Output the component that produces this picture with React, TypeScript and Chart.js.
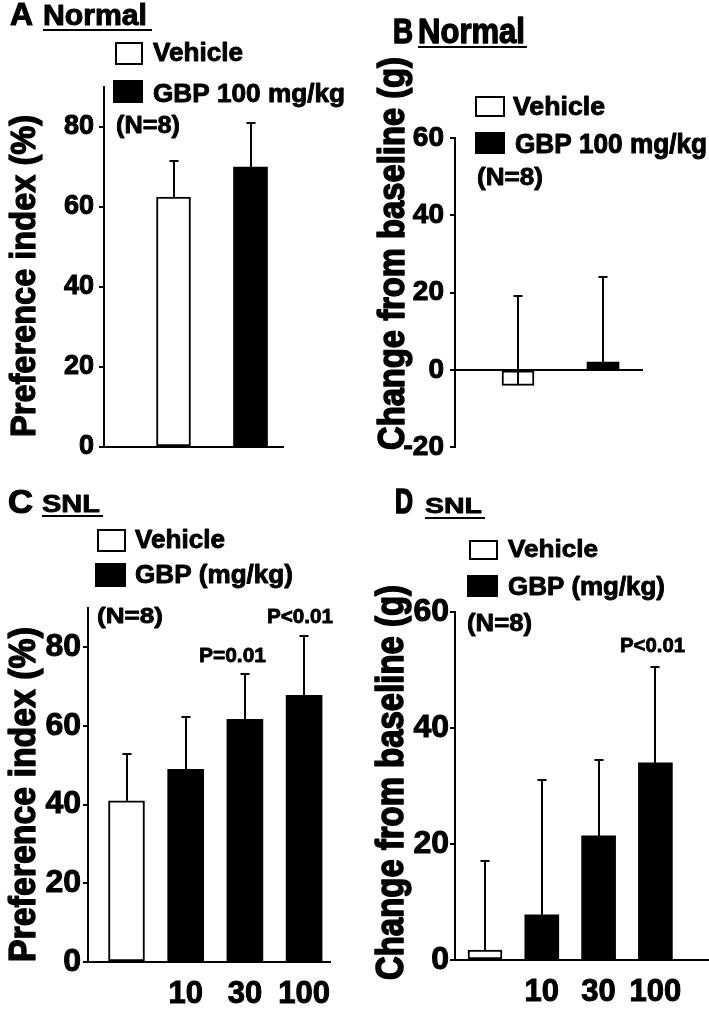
import React, { useEffect, useRef } from 'react';
import { Chart, registerables } from 'chart.js';

Chart.register(...registerables);

const FONT = '"Liberation Sans", Arial, Helvetica, sans-serif';

// ---------------- Data ----------------
// Panel A — Normal, preference index (%)
const A_VEHICLE_MEAN = [62.5];
const A_VEHICLE_SD = [9];
const A_GBP_MEAN = [70];
const A_GBP_SD = [11];
const A_Y_TICKS = [0, 20, 40, 60, 80];

// Panel B — Normal, change from baseline (g)
const B_VEHICLE_MEAN = [-4];
const B_VEHICLE_SD = [23];
const B_GBP_MEAN = [2];
const B_GBP_SD = [22];
const B_Y_TICKS = [-20, 0, 20, 40, 60];

// Panel C — SNL, preference index (%)
const C_VEHICLE_MEAN = [41];
const C_VEHICLE_SD = [12];
const C_GBP_MEAN = [49, 61.7, 67.8];
const C_GBP_SD = [13.2, 11.4, 15.2];
const C_Y_TICKS = [0, 20, 40, 60, 80];

// Panel D — SNL, change from baseline (g)
const D_VEHICLE_MEAN = [1.7];
const D_VEHICLE_SD = [15.4];
const D_GBP_MEAN = [7.8, 21.4, 34];
const D_GBP_SD = [23.2, 13.1, 16.5];
const D_Y_TICKS = [0, 20, 40, 60];

// Category tick labels
const NORMAL_X_LABELS = ['', ''];
const SNL_X_LABELS = ['', '10', '30', '100'];

// Text
const LEGEND_VEHICLE = 'Vehicle';
const LEGEND_GBP_100 = 'GBP 100 mg/kg';
const LEGEND_GBP_DOSE = 'GBP (mg/kg)';
const N_LABEL = '(N=8)';
const Y_TITLE_PI = 'Preference index (%)';
const Y_TITLE_CHG = 'Change from baseline (g)';

// ---------------- Layout ----------------
type TextSpec = { t: string; x: number; y: number; cap: number; w: number; rot?: boolean };
type BoxSpec = { x: number; y: number; w: number; h: number; fill: 'white' | 'black' };
type LineSpec = { x1: number; x2: number; y: number };

type PanelSpec = {
  box: { x: number; y: number; w: number; h: number };
  area: { l: number; t: number; r: number; b: number };
  yMin: number;
  yMax: number;
  yTicks: number[];
  tickFont: number;
  tickPad: number;
  barW: number;
  c1: number;
  sp: number;
  xAtZero: boolean;
  xLabels: string[];
  showXLabels: boolean;
  vehMean: number[];
  vehSd: number[];
  gbpMean: number[];
  gbpSd: number[];
  texts: TextSpec[];
  boxes: BoxSpec[];
  lines: LineSpec[];
};

const PANELS: PanelSpec[] = [
  {
    box: { x: 0, y: 0, w: 355, h: 470 },
    area: { l: 104, t: 87, r: 283, b: 447 },
    yMin: 0, yMax: 90, yTicks: A_Y_TICKS, tickFont: 27, tickPad: 5,
    barW: 34, c1: 173.5, sp: 77, xAtZero: false,
    xLabels: NORMAL_X_LABELS, showXLabels: false,
    vehMean: A_VEHICLE_MEAN, vehSd: A_VEHICLE_SD, gbpMean: A_GBP_MEAN, gbpSd: A_GBP_SD,
    texts: [
      { t: 'A', x: 10, y: 25, cap: 22, w: 23 },
      { t: 'Normal', x: 43, y: 25, cap: 21, w: 104 },
      { t: LEGEND_VEHICLE, x: 153, y: 61, cap: 18, w: 90 },
      { t: LEGEND_GBP_100, x: 153, y: 102, cap: 18, w: 192 },
      { t: N_LABEL, x: 116, y: 133, cap: 17, w: 64 },
      { t: Y_TITLE_PI, x: 35, y: 437, cap: 25, w: 322, rot: true },
    ],
    boxes: [
      { x: 115, y: 42, w: 28, h: 23, fill: 'white' },
      { x: 113, y: 80, w: 30, h: 23, fill: 'black' },
    ],
    lines: [{ x1: 43, x2: 152, y: 29 }],
  },
  {
    box: { x: 355, y: 0, w: 354, h: 470 },
    area: { l: 455, t: 138, r: 642, b: 448 },
    yMin: -20, yMax: 60, yTicks: B_Y_TICKS, tickFont: 28, tickPad: 6,
    barW: 32, c1: 518, sp: 85, xAtZero: true,
    xLabels: NORMAL_X_LABELS, showXLabels: false,
    vehMean: B_VEHICLE_MEAN, vehSd: B_VEHICLE_SD, gbpMean: B_GBP_MEAN, gbpSd: B_GBP_SD,
    texts: [
      { t: 'B', x: 393, y: 43, cap: 25, w: 20 },
      { t: 'Normal', x: 418, y: 43, cap: 25, w: 107 },
      { t: LEGEND_VEHICLE, x: 513, y: 115, cap: 18, w: 92 },
      { t: LEGEND_GBP_100, x: 515, y: 153, cap: 20, w: 192 },
      { t: N_LABEL, x: 477, y: 185, cap: 17, w: 66 },
      { t: Y_TITLE_CHG, x: 404, y: 450, cap: 27, w: 393, rot: true },
    ],
    boxes: [
      { x: 475, y: 96, w: 30, h: 21, fill: 'white' },
      { x: 475, y: 132, w: 30, h: 22, fill: 'black' },
    ],
    lines: [{ x1: 418, x2: 527, y: 46 }],
  },
  {
    box: { x: 0, y: 470, w: 355, h: 540 },
    area: { l: 88, t: 608, r: 330, b: 962 },
    yMin: 0, yMax: 90, yTicks: C_Y_TICKS, tickFont: 32, tickPad: 2,
    barW: 36, c1: 126.5, sp: 59.2, xAtZero: false,
    xLabels: SNL_X_LABELS, showXLabels: true,
    vehMean: C_VEHICLE_MEAN, vehSd: C_VEHICLE_SD, gbpMean: C_GBP_MEAN, gbpSd: C_GBP_SD,
    texts: [
      { t: 'C', x: 8, y: 513, cap: 24, w: 25 },
      { t: 'SNL', x: 42, y: 512, cap: 17, w: 58 },
      { t: LEGEND_VEHICLE, x: 135, y: 548, cap: 18, w: 90 },
      { t: LEGEND_GBP_DOSE, x: 135, y: 583, cap: 18, w: 158 },
      { t: N_LABEL, x: 97, y: 623, cap: 16, w: 66 },
      { t: 'P=0.01', x: 199, y: 662, cap: 15, w: 67 },
      { t: 'P<0.01', x: 267, y: 623, cap: 15, w: 66 },
      { t: Y_TITLE_PI, x: 35, y: 962, cap: 26, w: 335, rot: true },
    ],
    boxes: [
      { x: 97, y: 529, w: 29, h: 23, fill: 'white' },
      { x: 95, y: 563, w: 31, h: 24, fill: 'black' },
    ],
    lines: [{ x1: 42, x2: 103, y: 515 }],
  },
  {
    box: { x: 355, y: 470, w: 354, h: 540 },
    area: { l: 455, t: 612, r: 708, b: 960 },
    yMin: 0, yMax: 60, yTicks: D_Y_TICKS, tickFont: 32, tickPad: 1,
    barW: 34, c1: 485, sp: 56.8, xAtZero: false,
    xLabels: SNL_X_LABELS, showXLabels: true,
    vehMean: D_VEHICLE_MEAN, vehSd: D_VEHICLE_SD, gbpMean: D_GBP_MEAN, gbpSd: D_GBP_SD,
    texts: [
      { t: 'D', x: 395, y: 513, cap: 25, w: 18 },
      { t: 'SNL', x: 425, y: 513, cap: 16, w: 57 },
      { t: LEGEND_VEHICLE, x: 508, y: 557, cap: 17, w: 90 },
      { t: LEGEND_GBP_DOSE, x: 508, y: 595, cap: 18, w: 157 },
      { t: N_LABEL, x: 467, y: 631, cap: 17, w: 65 },
      { t: 'P<0.01', x: 620, y: 652, cap: 14, w: 65 },
      { t: Y_TITLE_CHG, x: 403, y: 980, cap: 28, w: 395, rot: true },
    ],
    boxes: [
      { x: 469, y: 540, w: 29, h: 20, fill: 'white' },
      { x: 467, y: 575, w: 31, h: 22, fill: 'black' },
    ],
    lines: [{ x1: 425, x2: 485, y: 517 }],
  },
];

function drawText(ctx: CanvasRenderingContext2D, s: TextSpec) {
  const size = s.cap / 0.716;
  ctx.font = `bold ${size}px ${FONT}`;
  const natural = ctx.measureText(s.t).width;
  const sx = s.w ? s.w / natural : 1;
  ctx.save();
  ctx.translate(s.x, s.y);
  if (s.rot) ctx.rotate(-Math.PI / 2);
  ctx.scale(sx, 1);
  ctx.fillStyle = '#000';
  ctx.strokeStyle = '#000';
  ctx.lineWidth = Math.max(0.8, size * 0.035) / Math.min(sx, 1);
  ctx.lineJoin = 'round';
  ctx.textAlign = 'left';
  ctx.textBaseline = 'alphabetic';
  ctx.fillText(s.t, 0, 0);
  ctx.strokeText(s.t, 0, 0);
  ctx.restore();
}

function buildConfig(spec: PanelSpec): any {
  const { box, area } = spec;
  const l = area.l - box.x;
  const t = area.t - box.y;
  const r = area.r - box.x;
  const b = area.b - box.y;
  const xMin = 1 - (spec.c1 - area.l) / spec.sp;
  const xMax = 1 + (area.r - spec.c1) / spec.sp;
  const vehData = spec.vehMean.map((m, i) => ({ x: i + 1, y: m }));
  const gbpData = spec.gbpMean.map((m, i) => ({ x: i + 1 + spec.vehMean.length, y: m }));
  const tickFont = { family: FONT, weight: 'bold' as const, size: spec.tickFont };

  const extras = {
    id: 'panelExtras',
    afterDatasetsDraw(chart: any) {
      const ctx = chart.ctx as CanvasRenderingContext2D;
      const ys = chart.scales.y;
      const groups = [
        { mean: spec.vehMean, sd: spec.vehSd },
        { mean: spec.gbpMean, sd: spec.gbpSd },
      ];
      ctx.save();
      ctx.strokeStyle = '#000';
      ctx.lineWidth = 2;
      groups.forEach((g, di) => {
        const meta = chart.getDatasetMeta(di);
        meta.data.forEach((bar: any, i: number) => {
          const x = Math.round(bar.x);
          const y0 = ys.getPixelForValue(g.mean[i]);
          const y1 = Math.round(ys.getPixelForValue(g.mean[i] + g.sd[i]));
          ctx.beginPath();
          ctx.moveTo(x, y0);
          ctx.lineTo(x, y1);
          ctx.moveTo(x - 4.5, y1);
          ctx.lineTo(x + 4.5, y1);
          ctx.stroke();
        });
      });
      ctx.restore();
    },
    afterDraw(chart: any) {
      const ctx = chart.ctx as CanvasRenderingContext2D;
      ctx.save();
      ctx.translate(-box.x, -box.y);
      spec.boxes.forEach((bx) => {
        if (bx.fill === 'black') {
          ctx.fillStyle = '#000';
          ctx.fillRect(bx.x, bx.y, bx.w, bx.h);
        } else {
          ctx.fillStyle = '#fff';
          ctx.fillRect(bx.x, bx.y, bx.w, bx.h);
          ctx.strokeStyle = '#000';
          ctx.lineWidth = 2;
          ctx.strokeRect(bx.x + 1, bx.y + 1, bx.w - 2, bx.h - 2);
        }
      });
      ctx.fillStyle = '#000';
      spec.lines.forEach((ln) => ctx.fillRect(ln.x1, ln.y, ln.x2 - ln.x1, 2));
      spec.texts.forEach((s) => drawText(ctx, s));
      ctx.restore();
    },
  };

  return {
    type: 'bar',
    data: {
      datasets: [
        {
          label: LEGEND_VEHICLE,
          data: vehData,
          backgroundColor: '#ffffff',
          borderColor: '#000000',
          borderWidth: 2,
          borderSkipped: false,
          barThickness: spec.barW,
          grouped: false,
        },
        {
          label: 'GBP',
          data: gbpData,
          backgroundColor: '#000000',
          borderColor: '#000000',
          borderWidth: 0,
          borderSkipped: false,
          barThickness: spec.barW,
          grouped: false,
        },
      ],
    },
    options: {
      animation: false,
      responsive: false,
      maintainAspectRatio: false,
      devicePixelRatio: 1,
      events: [],
      layout: {
        padding: {
          left: 0,
          top: t,
          right: box.w - r,
          bottom: spec.xAtZero ? box.h - b : 0,
        },
      },
      plugins: {
        legend: { display: false },
        tooltip: { enabled: false },
        title: { display: false },
      },
      scales: {
        x: {
          type: 'linear',
          min: xMin,
          max: xMax,
          offset: false,
          position: spec.xAtZero ? { y: 0 } : 'bottom',
          afterBuildTicks: (s: any) => {
            s.ticks = spec.xLabels.map((_, i) => ({ value: i + 1 }));
          },
          afterFit: (s: any) => {
            if (!spec.xAtZero) s.height = box.h - b;
          },
          grid: { display: false, drawTicks: false, lineWidth: 2 },
          border: { display: true, color: '#000', width: 2 },
          ticks: {
            display: spec.showXLabels,
            autoSkip: false,
            maxRotation: 0,
            minRotation: 0,
            padding: 14,
            color: '#000',
            textStrokeColor: '#000',
            textStrokeWidth: 1,
            font: { family: FONT, weight: 'bold', size: 31 },
            callback: (v: number) => spec.xLabels[Math.round(v) - 1] ?? '',
          },
        },
        y: {
          type: 'linear',
          min: spec.yMin,
          max: spec.yMax,
          afterBuildTicks: (s: any) => {
            s.ticks = spec.yTicks.map((v) => ({ value: v }));
          },
          afterFit: (s: any) => {
            s.width = l;
          },
          grid: {
            display: true,
            drawOnChartArea: false,
            drawTicks: true,
            tickLength: 5,
            color: '#000',
            lineWidth: 2,
          },
          border: { display: true, color: '#000', width: 2 },
          ticks: {
            color: '#000',
            textStrokeColor: '#000',
            textStrokeWidth: 1,
            padding: spec.tickPad,
            font: tickFont,
            callback: (v: number) => String(v),
          },
        },
      },
    },
    plugins: [extras],
  };
}

function Panel({ spec }: { spec: PanelSpec }) {
  const ref = useRef<HTMLCanvasElement>(null);
  useEffect(() => {
    if (!ref.current) return;
    const chart = new Chart(ref.current, buildConfig(spec));
    return () => chart.destroy();
  }, [spec]);
  return (
    <canvas
      ref={ref}
      width={spec.box.w}
      height={spec.box.h}
      style={{
        position: 'absolute',
        left: spec.box.x,
        top: spec.box.y,
        width: spec.box.w,
        height: spec.box.h,
      }}
    />
  );
}

export default function App() {
  return (
    <div
      style={{
        position: 'absolute',
        left: 0,
        top: 0,
        width: 709,
        height: 1010,
        background: '#fff',
        overflow: 'hidden',
      }}
    >
      {PANELS.map((p, i) => (
        <Panel key={i} spec={p} />
      ))}
    </div>
  );
}
